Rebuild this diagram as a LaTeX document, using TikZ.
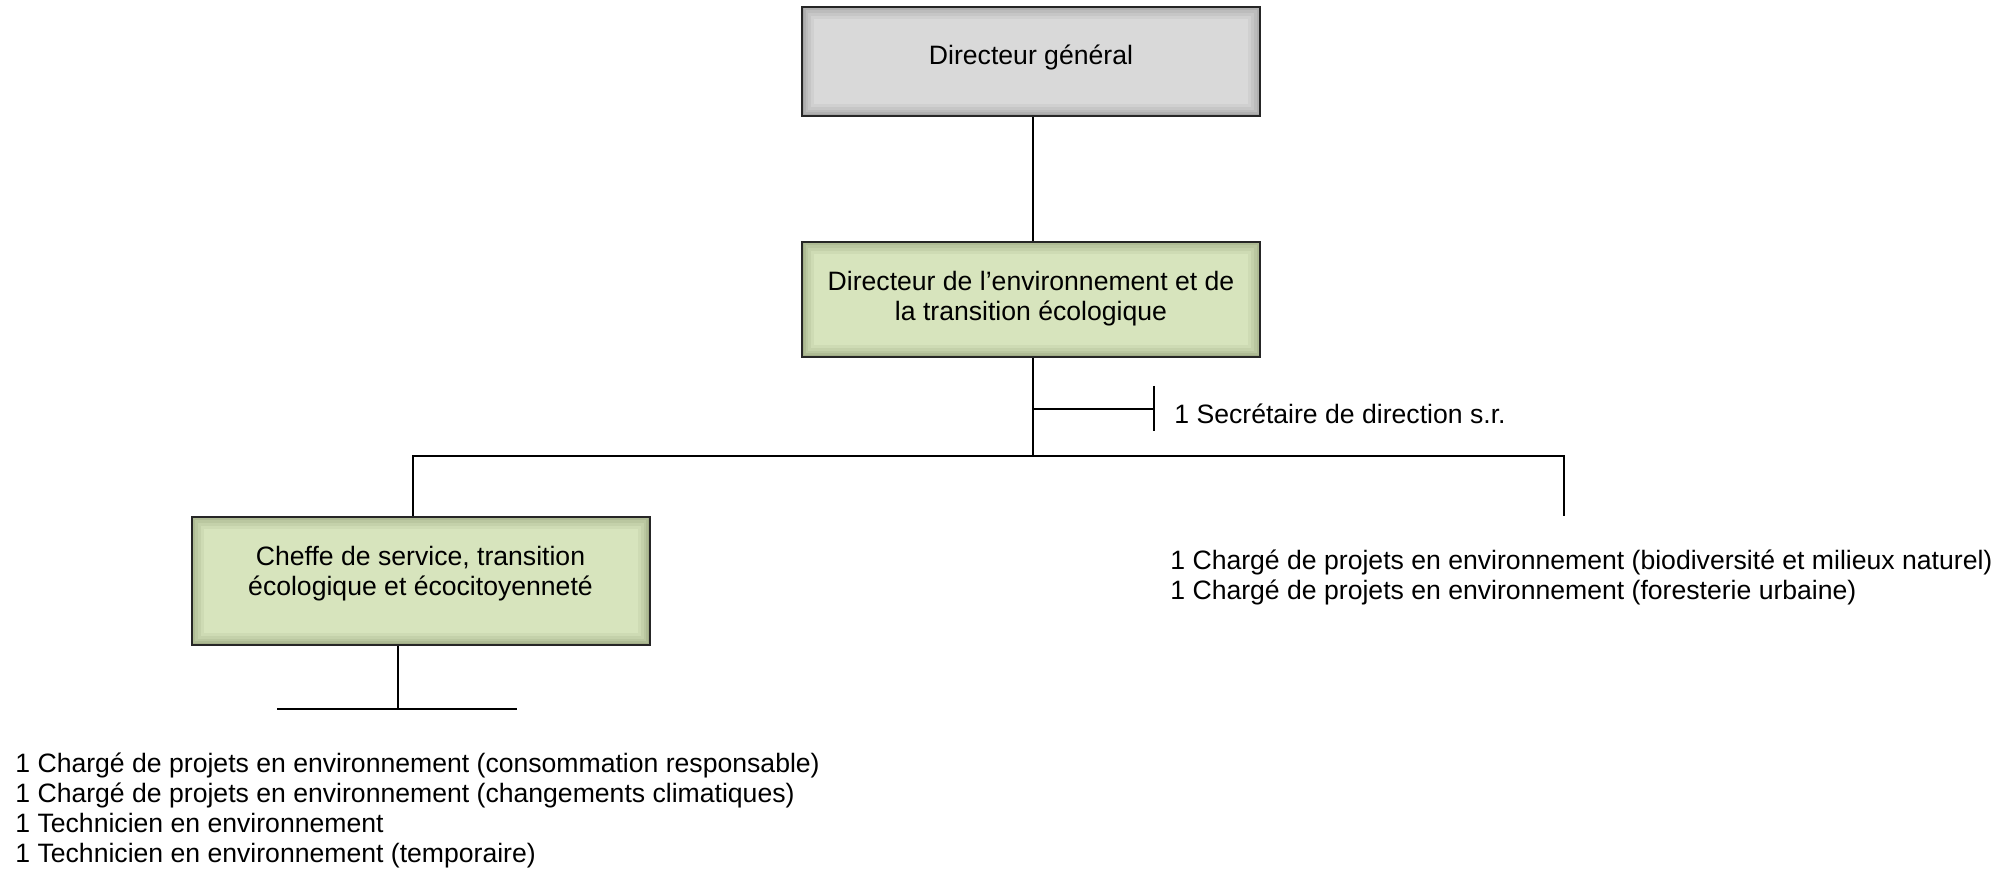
\documentclass[tikz,border=0pt]{standalone}
\usepackage{fontspec}
\setmainfont{Liberation Sans}
\definecolor{fondgris}{HTML}{D9D9D9}
\definecolor{fondvert}{HTML}{D7E4BD}
\definecolor{lueurgris}{HTML}{4A4A4A}
\definecolor{lueurvert}{HTML}{4E5630}
\tikzset{
  lueur/.style={path picture={
      \draw[#1, opacity=0.06, line width=12pt] (path picture bounding box.south west) rectangle (path picture bounding box.north east);
      \draw[#1, opacity=0.07, line width=9pt] (path picture bounding box.south west) rectangle (path picture bounding box.north east);
      \draw[#1, opacity=0.08, line width=6pt] (path picture bounding box.south west) rectangle (path picture bounding box.north east);
      \draw[#1, opacity=0.1, line width=3.5pt] (path picture bounding box.south west) rectangle (path picture bounding box.north east);
      \draw[#1, opacity=0.12, line width=1.5pt] (path picture bounding box.south west) rectangle (path picture bounding box.north east);}},
  poste/.style={draw=black!85, line width=1pt, inner sep=0pt, align=center, minimum width=229pt},
  postegris/.style={poste, fill=fondgris, lueur=lueurgris},
  postevert/.style={poste, fill=fondvert, lueur=lueurvert},
  trait/.style={line width=1pt, black},
  liste/.style={inner sep=0pt, align=left, anchor=base west},
}
\begin{document}
\begin{tikzpicture}[x=0.5pt, y=-0.5pt, font=\fontsize{13.3}{15}\selectfont]
  \useasboundingbox (0,0) rectangle (2010,871);
%
  \node[postegris, minimum height=54.5pt, text height=9.5pt, text depth=6pt] (dg) at (1031,61.5) {Directeur général};
  \node[postevert, minimum height=57.5pt, text height=25pt, text depth=3.5pt] (dir) at (1031,299.5) {Directeur de l’environnement et de\\la transition écologique};
  \node[postevert, minimum height=64pt, text height=19pt, text depth=4pt] (chef) at (420.5,581) {Cheffe de service, transition\\écologique et écocitoyenneté};
%
  \coordinate (jonction) at (1033,456);
  \coordinate (sec) at (1033,409);
  \coordinate (tick) at (1154,409);
  \coordinate (barreG) at (413,456);
  \coordinate (barreD) at (1564,456);
  \coordinate (finD) at (1564,516);
  \coordinate (sousChef) at (398,709);
  \coordinate (barreBG) at (277,709);
  \coordinate (barreBD) at (517,709);
%
  \draw[trait] (dg.south -| jonction) -- (dir.north -| jonction);
  \draw[trait] (dir.south -| jonction) -- (jonction);
  \draw[trait] (sec) -- (tick);
  \draw[trait] (tick) ++(0,-23) -- ++(0,45);
  \draw[trait] (chef.north -| barreG) -- (barreG) -- (barreD) -- (finD);
  \draw[trait] (chef.south -| sousChef) -- (sousChef);
  \draw[trait] (barreBG) -- (barreBD);
%
  % base = baseline of the last line
  \node[liste] (secretaire) at (1174,424) {1 Secrétaire de direction s.r.};
  \node[liste] (equipeD) at (1170,600) {1 Chargé de projets en environnement (biodiversité et milieux naturel)\\1 Chargé de projets en environnement (foresterie urbaine)};
  \node[liste] (equipeG) at (15,862) {1 Chargé de projets en environnement (consommation responsable)\\1 Chargé de projets en environnement (changements climatiques)\\1 Technicien en environnement\\1 Technicien en environnement (temporaire)};
\end{tikzpicture}
\end{document}
